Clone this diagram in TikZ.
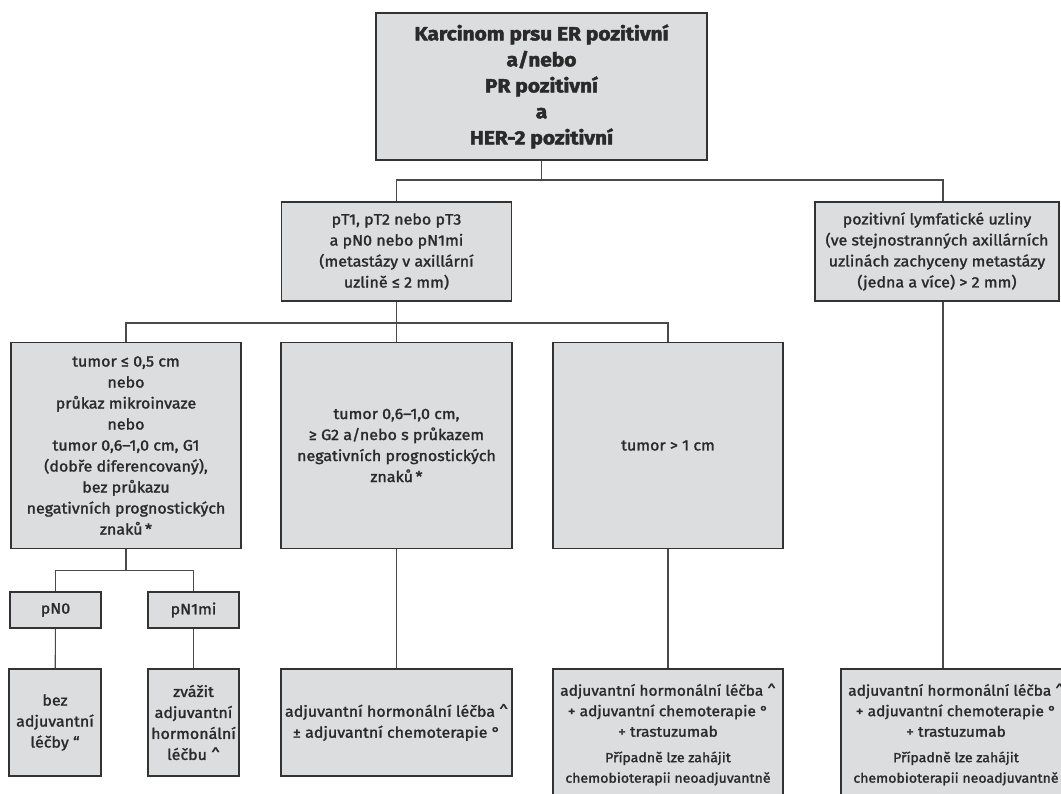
\documentclass[tikz,border=0pt]{standalone}
\usepackage{fontspec}
\setmainfont{Fira Sans}[FakeStretch=1.07, UprightFeatures={FakeBold=1.6},
  BoldFeatures={FakeBold=2.4, FakeStretch=1.1}]
\definecolor{boxfill}{HTML}{DCDDDF}
\definecolor{boxline}{HTML}{333333}
\definecolor{txt}{HTML}{2A2A2A}
\definecolor{wire}{HTML}{4A4A4A}
\newcommand{\smallnote}{\fontsize{13.2}{20}\selectfont}
\begin{document}
\begin{tikzpicture}[x=1pt, y=-1pt,
  box/.style={draw=boxline, line width=1.4pt, fill=boxfill, inner sep=0pt,
    text=txt, align=center, font=\fontsize{15}{21}\selectfont},
  therapy/.style={box, minimum width=230pt, minimum height=131pt,
    font=\fontsize{14.5}{20.5}\selectfont},
  conn/.style={draw=wire, line width=1.1pt}]
\useasboundingbox (0,0) rectangle (1061,794);
\clip (0,0) rectangle (1061,794);

% root
\node[box, minimum width=331pt, minimum height=147pt,
  font=\fontsize{19}{26}\selectfont\bfseries] (top) at (541.5,86.5)
  {Karcinom prsu ER pozitivní\\a/nebo\\PR pozitivní\\a\\HER-2 pozitivní};

% second level
\node[box, minimum width=230pt, minimum height=99pt] (pt) at (396.5,251.5)
  {pT1, pT2 nebo pT3\\a pN0 nebo pN1mi\\(metastázy v axillární\\uzlině ≤ 2 mm)};
\node[box, minimum width=244pt, minimum height=99pt] (poz) at (937,251.5)
  {pozitivní lymfatické uzliny\\(ve stejnostranných axillárních\\uzlinách zachyceny metastázy\\(jedna a více) > 2 mm)};

% tumour size
\node[box, minimum width=230pt, minimum height=206pt] (t1) at (126,445.5)
  {tumor ≤ 0,5 cm\\nebo\\průkaz mikroinvaze\\nebo\\tumor 0,6–1,0 cm, G1\\(dobře diferencovaný),\\bez průkazu\\negativních prognostických\\znaků\,*};
\node[box, minimum width=231pt, minimum height=206pt] (t2) at (396.5,445.5)
  {tumor 0,6–1,0 cm,\\≥ G2 a/nebo s průkazem\\negativních prognostických\\znaků\,*};
\node[box, minimum width=230pt, minimum height=206pt] (t3) at (668,445.5)
  {tumor > 1 cm};

% nodal status
\node[box, minimum width=91pt, minimum height=36pt] (pn0) at (55.5,610) {pN0};
\node[box, minimum width=91pt, minimum height=36pt] (pn1) at (193.5,610) {pN1mi};

% treatment
\node[box, minimum width=92pt, minimum height=107pt] (r1) at (55,722.5)
  {bez\\adjuvantní\\léčby “};
\node[box, minimum width=91pt, minimum height=107pt] (r2) at (193.5,722.5)
  {zvážit\\adjuvantní\\hormonální\\léčbu \textasciicircum};
\node[box, minimum width=231pt, minimum height=107pt] (r3) at (396.5,722.5)
  {adjuvantní hormonální léčba \textasciicircum\\± adjuvantní chemoterapie °};
\node[therapy] (r4) at (668,734.5)
  {adjuvantní hormonální léčba \textasciicircum\\+ adjuvantní chemoterapie °\\+ trastuzumab\\[5pt]{\smallnote Případně lze zahájit}\\{\smallnote chemobioterapii neoadjuvantně}};
\node[therapy] (r5) at (956,734.5)
  {adjuvantní hormonální léčba \textasciicircum\\+ adjuvantní chemoterapie °\\+ trastuzumab\\[5pt]{\smallnote Případně lze zahájit}\\{\smallnote chemobioterapii neoadjuvantně}};

% connectors
\draw[conn] (top.south) -- (top.south |- 0,180);
\draw[conn] (pt.north) |- (top.south |- 0,180) -| ([xshift=6pt]poz.north);
\draw[conn] (t1.north) |- (t2.north |- 0,323) -| (t3.north);
\draw[conn] (pt.south) -- (t2.north);
\draw[conn] (t1.south) -- ++(0,21) coordinate (split);
\draw[conn] (pn0.north) |- (split) -| (pn1.north);
\draw[conn] (pn0) -- (r1);
\draw[conn] (pn1) -- (r2);
\draw[conn] (t2) -- (r3);
\draw[conn] (t3) -- (r4);
\draw[conn] ([xshift=6pt]poz.south) -- ([xshift=6pt]poz.south |- r5.north);
\end{tikzpicture}
\end{document}
